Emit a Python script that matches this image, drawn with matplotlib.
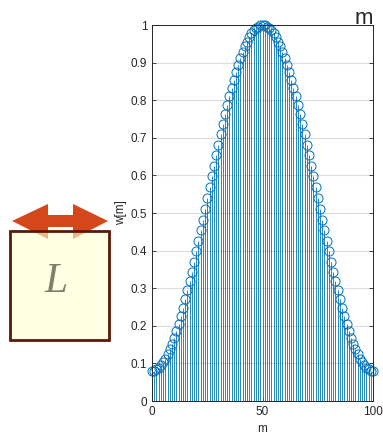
import matplotlib
matplotlib.use("Agg")
import matplotlib.pyplot as plt
from matplotlib.patches import Polygon, Rectangle

plt.rcParams['font.family'] = ['Liberation Sans', 'DejaVu Sans']

# Hamming window samples, m = 0..100
m = list(range(101))
w = [0.080, 0.081, 0.084, 0.088, 0.095, 0.103, 0.112, 0.124, 0.137, 0.152,
     0.168, 0.186, 0.205, 0.225, 0.247, 0.270, 0.294, 0.318, 0.344, 0.371,
     0.398, 0.426, 0.454, 0.482, 0.511, 0.540, 0.569, 0.598, 0.626, 0.654,
     0.682, 0.709, 0.736, 0.762, 0.787, 0.810, 0.833, 0.855, 0.875, 0.894,
     0.912, 0.928, 0.943, 0.956, 0.968, 0.978, 0.986, 0.992, 0.996, 0.999,
     1.000,
     0.999, 0.996, 0.992, 0.986, 0.978, 0.968, 0.956, 0.943, 0.928, 0.912,
     0.894, 0.875, 0.855, 0.833, 0.810, 0.787, 0.762, 0.736, 0.709, 0.682,
     0.654, 0.626, 0.598, 0.569, 0.540, 0.511, 0.482, 0.454, 0.426, 0.398,
     0.371, 0.344, 0.318, 0.294, 0.270, 0.247, 0.225, 0.205, 0.186, 0.168,
     0.152, 0.137, 0.124, 0.112, 0.103, 0.095, 0.088, 0.084, 0.081, 0.080]
y_ticks = [0, 0.1, 0.2, 0.3, 0.4, 0.5, 0.6, 0.7, 0.8, 0.9, 1]
y_tick_labels = ['0', '0.1', '0.2', '0.3', '0.4', '0.5', '0.6', '0.7', '0.8', '0.9', '1']
x_ticks = [0, 50, 100]

blue = '#0072BD'

fig = plt.figure(figsize=(3.83, 4.41), dpi=100)

# overlay in pixel units for the little window sketch on the left
deco = fig.add_axes([0, 0, 1, 1])
deco.set_xlim(0, 383)
deco.set_ylim(441, 0)
deco.axis('off')
arrow = Polygon([(12, 221), (48, 204), (48, 215), (73, 215), (73, 204),
                 (108, 221), (73, 239), (73, 227), (48, 227), (48, 239)],
                closed=True, facecolor='#D4471A', edgecolor='none', zorder=1)
deco.add_patch(arrow)
box = Rectangle((10, 231), 99, 109, facecolor=(1, 1, 0.82), alpha=0.6,
                edgecolor='none', zorder=2)
deco.add_patch(box)
deco.add_patch(Rectangle((10, 231), 99, 109, facecolor='none',
                         edgecolor='#5A1A0A', linewidth=2.0, zorder=3))
deco.text(56, 282, 'L', fontsize=30, fontstyle='italic', family='Liberation Serif',
          color='#7F7F6A', ha='center', va='center', zorder=4)

ax = fig.add_axes([0.397, 0.0907, 0.577, 0.8526])
markerline, stemlines, baseline = ax.stem(m, w, basefmt=' ')
plt.setp(stemlines, color=blue, linewidth=0.6)
plt.setp(markerline, marker='o', markersize=6.5, markerfacecolor='none',
         markeredgecolor=blue, markeredgewidth=0.7)
markerline.set_clip_on(False)

ax.set_xlim(0, 100)
ax.set_ylim(0, 1)
ax.set_xticks(x_ticks)
ax.set_yticks(y_ticks)
ax.set_yticklabels(y_tick_labels)
ax.yaxis.grid(True, color='#DCDCDC', linewidth=0.8)
ax.set_axisbelow(True)
ax.tick_params(direction='in', top=True, right=True, labelsize=8.5,
               length=3, width=0.6, colors='#262626')
for s in ax.spines.values():
    s.set_linewidth(0.7)
    s.set_color('#262626')

ax.set_xlabel('m', fontsize=8.5, color='#262626', labelpad=4)
ax.set_ylabel('w[m]', fontsize=8.5, color='#262626', labelpad=3)
ax.set_title('m', loc='right', fontsize=16, color='#262626', pad=1)

fig.savefig('out.png', dpi=100)
